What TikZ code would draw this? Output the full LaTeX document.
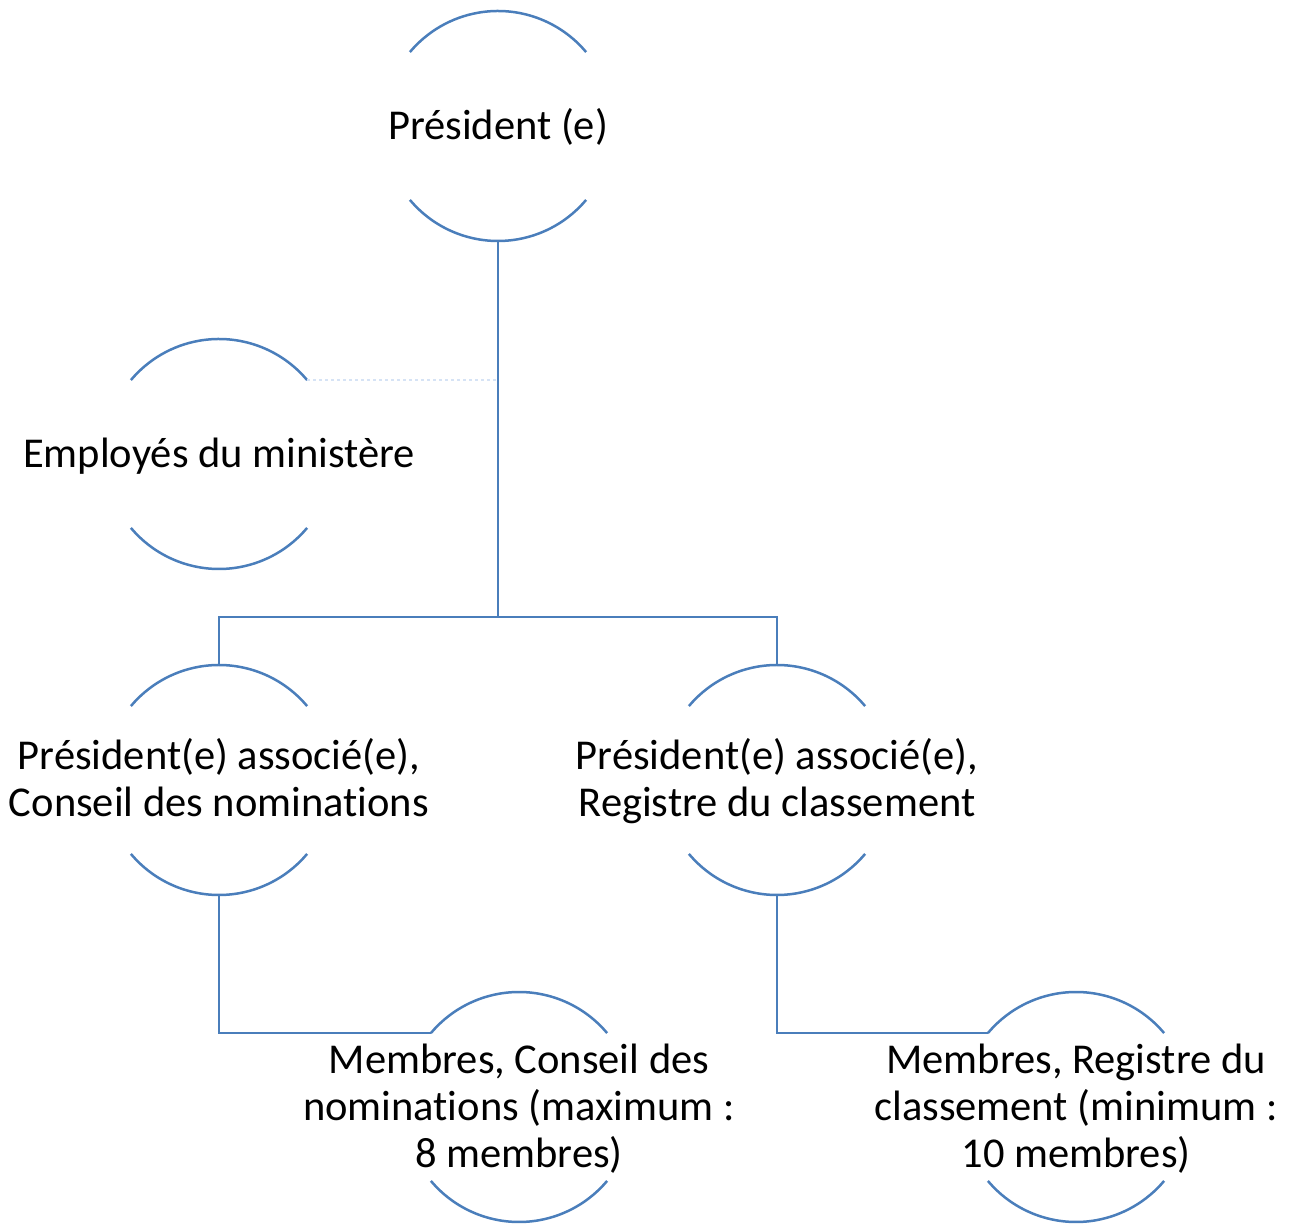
\documentclass[tikz,border=0pt]{standalone}
\usepackage{fontspec}
\setmainfont{Carlito}[Ligatures={NoCommon}]
\usetikzlibrary{calc}
\definecolor{arcblue}{HTML}{4A7EBB}
\definecolor{dotblue}{HTML}{D6E3F5}
\newcommand\drawarcs[1]{%
  \draw[arcline] ($(#1)+(40:115)$) arc (40:140:115);
  \draw[arcline] ($(#1)+(220:115)$) arc (220:320:115);}
\begin{document}
\begin{tikzpicture}[x=1pt,y=1pt,
  arcline/.style={draw=arcblue,line width=2.5pt},
  conn/.style={draw=arcblue,line width=2.5pt},
  dotconn/.style={draw=dotblue,line width=2.2pt,dash pattern=on 3pt off 3pt},
  lbl/.style={align=center,inner sep=0pt,yshift=-4pt,font=\fontsize{42.5}{47}\selectfont}]
\useasboundingbox (0,0) rectangle (1296,1224);
% circle centres
\coordinate (pc) at (498,1098);
\coordinate (ec) at (219,770);
\coordinate (cc) at (219,444);
\coordinate (rc) at (777,444);
\coordinate (mcc) at (519,117);
\coordinate (mrc) at (1076,117);
% text nodes
\node[lbl] (p) at (pc) {\strut Président (e)};
\node[lbl] (e) at (ec) {\strut Employés du ministère};
\node[lbl] (c) at (cc) {\strut Président(e) associé(e),\\\strut Conseil des nominations};
\node[lbl] (r) at (rc) {\strut Président(e) associé(e),\\\strut Registre du classement};
\node[lbl] (mc) at (mcc) {\strut Membres, Conseil des\\\strut nominations (maximum :\\\strut 8 membres)};
\node[lbl] (mr) at (mrc) {\strut Membres, Registre du\\\strut classement (minimum :\\\strut 10 membres)};
% arcs
\drawarcs{pc}
\drawarcs{ec}
\drawarcs{cc}
\drawarcs{rc}
\drawarcs{mcc}
\drawarcs{mrc}
% anchor points on the arcs
\coordinate (p-s) at ($(pc)+(0,-115)$);
\coordinate (e-ne) at ($(ec)+(40:115)$);
\coordinate (c-n) at ($(cc)+(0,115)$);
\coordinate (c-s) at ($(cc)+(0,-115)$);
\coordinate (r-n) at ($(rc)+(0,115)$);
\coordinate (r-s) at ($(rc)+(0,-115)$);
\coordinate (mc-nw) at ($(mcc)+(140:115)$);
\coordinate (mr-nw) at ($(mrc)+(140:115)$);
\coordinate (split) at ($(p-s)+(0,-376)$);
% connectors
\draw[dotconn] (e-ne) -- (e-ne -| p-s);
\draw[conn] (p-s) -- (split);
\draw[conn] (c-n) |- (split) -| (r-n);
\draw[conn] (c-s) |- (mc-nw);
\draw[conn] (r-s) |- (mr-nw);
\end{tikzpicture}
\end{document}
